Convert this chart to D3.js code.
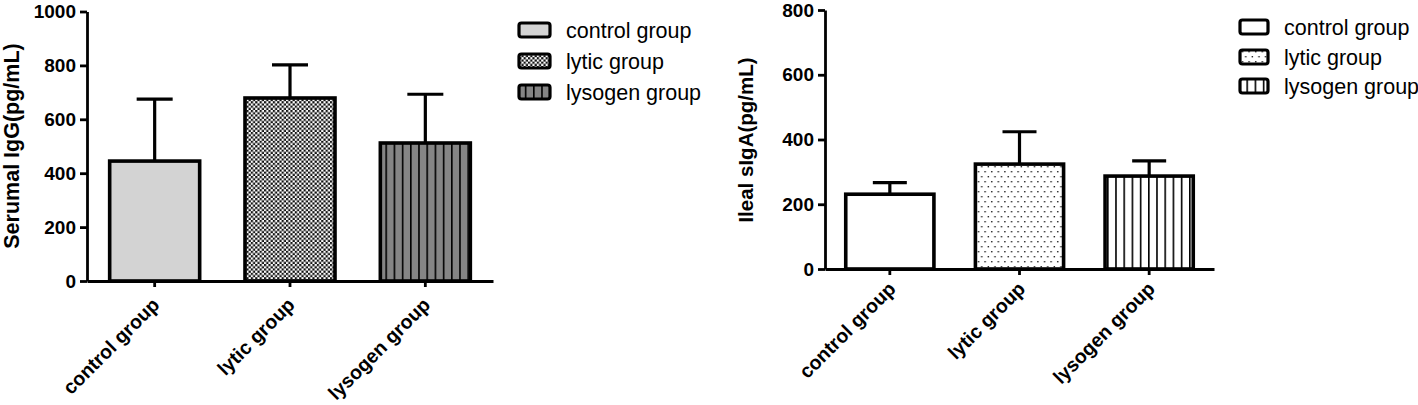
<!DOCTYPE html>
<html>
<head>
<meta charset="utf-8">
<script src="https://cdn.jsdelivr.net/npm/d3@7"></script>
<style>
  body { margin: 0; background: #fff; }
  svg { display: block; font-family: "Liberation Sans", Arial, sans-serif; }
</style>
</head>
<body>
<div id="chart"></div>
<script>
// Daten
const categories = ["control group", "lytic group", "lysogen group"];
const iggMean = [445, 679, 512];
const iggSD = [230, 123, 181];
const iggTicks = [0, 200, 400, 600, 800, 1000];
const igaMean = [231, 324, 287];
const igaSD = [36, 100, 47];
const igaTicks = [0, 200, 400, 600, 800];

const svg = d3.select("#chart")
    .append("svg")
    .attr("width", 1418)
    .attr("height", 405);

// Muster
const defs = svg.append("defs");

const checker = defs.append("pattern")
    .attr("id", "checker").attr("patternUnits", "userSpaceOnUse")
    .attr("width", 4.4).attr("height", 4.4);
checker.append("rect").attr("width", 4.4).attr("height", 4.4).attr("fill", "#fff");
checker.append("rect").attr("width", 2.2).attr("height", 2.2).attr("fill", "#111");
checker.append("rect").attr("x", 2.2).attr("y", 2.2).attr("width", 2.2).attr("height", 2.2).attr("fill", "#111");

const dots = defs.append("pattern")
    .attr("id", "dots").attr("patternUnits", "userSpaceOnUse")
    .attr("width", 6.6).attr("height", 10);
dots.append("rect").attr("width", 6.6).attr("height", 10).attr("fill", "#fff");
dots.append("rect").attr("x", 1).attr("y", 1).attr("width", 1.4).attr("height", 1.4).attr("fill", "#222");
dots.append("rect").attr("x", 4.3).attr("y", 6).attr("width", 1.4).attr("height", 1.4).attr("fill", "#222");

function vlines(id, bg) {
    const p = defs.append("pattern")
        .attr("id", id).attr("patternUnits", "userSpaceOnUse")
        .attr("width", 8.2).attr("height", 10);
    p.append("rect").attr("width", 8.2).attr("height", 10).attr("fill", bg);
    p.append("rect").attr("x", 0).attr("width", 1.6).attr("height", 10).attr("fill", "#000");
}
vlines("vlinesGrey", "#858585");
vlines("vlinesWhite", "#fff");

function drawChart(cfg) {
    const g = svg.append("g");

    const x = d3.scaleBand()
        .domain(categories)
        .range([cfg.x0, cfg.x1])
        .paddingInner(cfg.pad)
        .paddingOuter(cfg.pad / 2);

    const y = d3.scaleLinear()
        .domain([0, d3.max(cfg.ticks)])
        .range([cfg.y0, cfg.y1]);

    // Fehlerbalken
    const err = g.append("g");
    categories.forEach((c, i) => {
        const cx = x(c) + x.bandwidth() / 2;
        err.append("line")
            .attr("x1", cx).attr("x2", cx)
            .attr("y1", y(cfg.mean[i])).attr("y2", y(cfg.mean[i] + cfg.sd[i]))
            .attr("stroke", "#000").attr("stroke-width", 3.2);
        err.append("line")
            .attr("x1", cx - cfg.cap / 2).attr("x2", cx + cfg.cap / 2)
            .attr("y1", y(cfg.mean[i] + cfg.sd[i])).attr("y2", y(cfg.mean[i] + cfg.sd[i]))
            .attr("stroke", "#000").attr("stroke-width", 3.2);
    });

    // Balken
    g.selectAll(".bar")
        .data(categories)
        .join("rect")
        .attr("x", d => x(d))
        .attr("y", (d, i) => y(cfg.mean[i]))
        .attr("width", x.bandwidth())
        .attr("height", (d, i) => y(0) - y(cfg.mean[i]))
        .attr("fill", (d, i) => cfg.fills[i])
        .attr("stroke", "#000")
        .attr("stroke-width", 3.6);

    // Y-Achse
    const ya = g.append("g")
        .attr("transform", `translate(${cfg.x0},0)`)
        .call(d3.axisLeft(y).tickValues(cfg.ticks).tickFormat(d3.format("d"))
            .tickSize(7).tickSizeOuter(0).tickPadding(4));
    ya.select(".domain").attr("stroke-width", 2.8);
    ya.selectAll(".tick line").attr("stroke-width", 2.8);
    ya.selectAll("text")
        .attr("font-size", 19).attr("font-weight", "bold").attr("fill", "#000")
        .attr("font-family", "Liberation Sans, Arial, sans-serif");

    // X-Achse
    const xa = g.append("g")
        .attr("transform", `translate(0,${cfg.y0})`)
        .call(d3.axisBottom(x).tickSize(6).tickSizeOuter(0));
    xa.select(".domain").attr("stroke-width", 2.8);
    xa.selectAll(".tick line").attr("stroke-width", 2.8);
    xa.selectAll("text")
        .attr("y", 0).attr("dy", 0)
        .attr("transform", `translate(${cfg.lx},${cfg.ly}) rotate(-45)`)
        .style("text-anchor", "end")
        .attr("font-size", 19.5).attr("font-weight", "bold").attr("fill", "#000")
        .attr("font-family", "Liberation Sans, Arial, sans-serif");

    // Achsentitel
    g.append("text")
        .attr("transform", `translate(${cfg.tx},${cfg.ty}) rotate(-90)`)
        .attr("text-anchor", "middle")
        .attr("font-size", cfg.tsize).attr("font-weight", "bold")
        .text(cfg.title);

    // Legende
    const leg = g.append("g");
    categories.forEach((c, i) => {
        const ly = cfg.legY[i];
        leg.append("rect")
            .attr("x", cfg.legX).attr("y", ly - 7)
            .attr("width", cfg.legW).attr("height", 14)
            .attr("rx", 2.5)
            .attr("fill", cfg.fills[i])
            .attr("stroke", "#000").attr("stroke-width", 3.2);
        leg.append("text")
            .attr("x", cfg.legX + cfg.legW + 16).attr("y", ly)
            .attr("dy", "0.35em")
            .attr("font-size", 21.5)
            .text(c);
    });
}

drawChart({
    x0: 87, x1: 493, y0: 281, y1: 11.5, pad: 0.335,
    ticks: iggTicks, mean: iggMean, sd: iggSD, cap: 36,
    fills: ["#d3d3d3", "url(#checker)", "url(#vlinesGrey)"],
    lx: 6, ly: 25,
    title: "Serumal IgG(pg/mL)", tx: 19, ty: 146, tsize: 21.5,
    legX: 519, legW: 31, legY: [30, 61, 92]
});

drawChart({
    x0: 825, x1: 1214, y0: 269, y1: 10, pad: 0.32,
    ticks: igaTicks, mean: igaMean, sd: igaSD, cap: 34,
    fills: ["#fff", "url(#dots)", "url(#vlinesWhite)"],
    lx: 7, ly: 21,
    title: "Ileal sIgA(pg/mL)", tx: 753, ty: 140, tsize: 20.5,
    legX: 1240, legW: 28, legY: [27, 57, 86]
});
</script>
</body>
</html>
